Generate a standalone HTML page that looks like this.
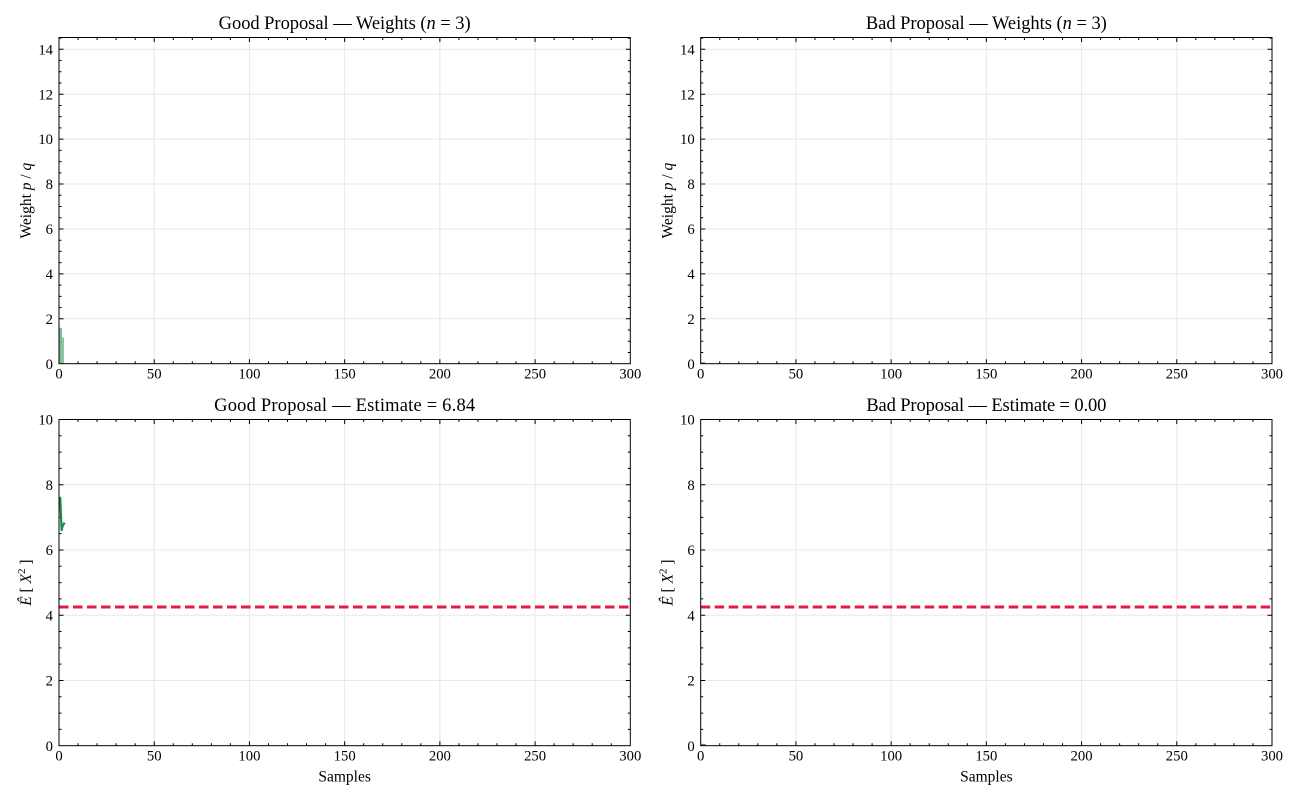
<!DOCTYPE html>
<html><head><meta charset="utf-8"><style>
html,body{margin:0;padding:0;background:#fff;}
svg{display:block;}
text{font-family:"Liberation Serif","DejaVu Serif",serif;fill:#000;}
.tk{font-size:14.7px;}
.lb{font-size:15.5px;}
.tt{font-size:18.5px;}
</style></head><body>
<svg width="1300" height="800" viewBox="0 0 1300 800" xmlns="http://www.w3.org/2000/svg">
<rect width="1300" height="800" fill="#fff"/>
<defs>
  <g id="xgrid">
    <path d="M95.22 0V326.2M190.43 0V326.2M285.65 0V326.2M380.87 0V326.2M476.08 0V326.2" stroke="#e8e8e8" stroke-width="1" fill="none"/>
  </g>
  <g id="xticks" stroke="#000" stroke-width="1" fill="none">
    <path d="M95.22 326.2v-4.5M190.43 326.2v-4.5M285.65 326.2v-4.5M380.87 326.2v-4.5M476.08 326.2v-4.5M95.22 0v4.5M190.43 0v4.5M285.65 0v4.5M380.87 0v4.5M476.08 0v4.5"/>
    <path d="M19.04 326.2v-2.5M38.09 326.2v-2.5M57.13 326.2v-2.5M76.17 326.2v-2.5M114.26 326.2v-2.5M133.3 326.2v-2.5M152.35 326.2v-2.5M171.39 326.2v-2.5M209.48 326.2v-2.5M228.52 326.2v-2.5M247.56 326.2v-2.5M266.61 326.2v-2.5M304.69 326.2v-2.5M323.74 326.2v-2.5M342.78 326.2v-2.5M361.82 326.2v-2.5M399.91 326.2v-2.5M418.95 326.2v-2.5M438 326.2v-2.5M457.04 326.2v-2.5M495.13 326.2v-2.5M514.17 326.2v-2.5M533.21 326.2v-2.5M552.26 326.2v-2.5
    M19.04 0v2.5M38.09 0v2.5M57.13 0v2.5M76.17 0v2.5M114.26 0v2.5M133.3 0v2.5M152.35 0v2.5M171.39 0v2.5M209.48 0v2.5M228.52 0v2.5M247.56 0v2.5M266.61 0v2.5M304.69 0v2.5M323.74 0v2.5M342.78 0v2.5M361.82 0v2.5M399.91 0v2.5M418.95 0v2.5M438 0v2.5M457.04 0v2.5M495.13 0v2.5M514.17 0v2.5M533.21 0v2.5M552.26 0v2.5"/>
  </g>
  <g id="xlabels" text-anchor="middle">
    <text class="tk" x="0" y="340.9">0</text>
    <text class="tk" x="95.22" y="340.9">50</text>
    <text class="tk" x="190.43" y="340.9">100</text>
    <text class="tk" x="285.65" y="340.9">150</text>
    <text class="tk" x="380.87" y="340.9">200</text>
    <text class="tk" x="476.08" y="340.9">250</text>
    <text class="tk" x="571.3" y="340.9">300</text>
  </g>
  <g id="ytop">
    <path d="M0 281.29H571.3M0 236.37H571.3M0 191.46H571.3M0 146.54H571.3M0 101.63H571.3M0 56.71H571.3M0 11.8H571.3" stroke="#e8e8e8" stroke-width="1" fill="none"/>
    <g stroke="#000" stroke-width="1" fill="none">
      <path d="M0 281.29h4.5M0 236.37h4.5M0 191.46h4.5M0 146.54h4.5M0 101.63h4.5M0 56.71h4.5M0 11.8h4.5M571.3 281.29h-4.5M571.3 236.37h-4.5M571.3 191.46h-4.5M571.3 146.54h-4.5M571.3 101.63h-4.5M571.3 56.71h-4.5M571.3 11.8h-4.5"/>
      <path d="M0 314.97h2.5M0 303.74h2.5M0 292.52h2.5M0 270.06h2.5M0 258.83h2.5M0 247.6h2.5M0 225.15h2.5M0 213.92h2.5M0 202.69h2.5M0 180.24h2.5M0 169.01h2.5M0 157.78h2.5M0 135.32h2.5M0 124.1h2.5M0 112.87h2.5M0 90.41h2.5M0 79.18h2.5M0 67.96h2.5M0 45.5h2.5M0 34.27h2.5M0 23.04h2.5M0 0.59h2.5
      M571.3 314.97h-2.5M571.3 303.74h-2.5M571.3 292.52h-2.5M571.3 270.06h-2.5M571.3 258.83h-2.5M571.3 247.6h-2.5M571.3 225.15h-2.5M571.3 213.92h-2.5M571.3 202.69h-2.5M571.3 180.24h-2.5M571.3 169.01h-2.5M571.3 157.78h-2.5M571.3 135.32h-2.5M571.3 124.1h-2.5M571.3 112.87h-2.5M571.3 90.41h-2.5M571.3 79.18h-2.5M571.3 67.96h-2.5M571.3 45.5h-2.5M571.3 34.27h-2.5M571.3 23.04h-2.5M571.3 0.59h-2.5"/>
    </g>
    <g text-anchor="end">
      <text class="tk" x="-6" y="331.3">0</text>
      <text class="tk" x="-6" y="286.39">2</text>
      <text class="tk" x="-6" y="241.47">4</text>
      <text class="tk" x="-6" y="196.56">6</text>
      <text class="tk" x="-6" y="151.64">8</text>
      <text class="tk" x="-6" y="106.73">10</text>
      <text class="tk" x="-6" y="61.81">12</text>
      <text class="tk" x="-6" y="16.9">14</text>
    </g>
    <text class="lb" text-anchor="middle" transform="translate(-28,163.1) rotate(-90)">Weight <tspan font-style="italic">p</tspan> / <tspan font-style="italic">q</tspan></text>
  </g>
  <g id="ybot">
    <path d="M0 260.96H571.3M0 195.72H571.3M0 130.48H571.3M0 65.24H571.3" stroke="#e8e8e8" stroke-width="1" fill="none"/>
    <g stroke="#000" stroke-width="1" fill="none">
      <path d="M0 260.96h4.5M0 195.72h4.5M0 130.48h4.5M0 65.24h4.5M571.3 260.96h-4.5M571.3 195.72h-4.5M571.3 130.48h-4.5M571.3 65.24h-4.5"/>
      <path d="M0 309.89h2.5M0 293.58h2.5M0 277.27h2.5M0 244.65h2.5M0 228.34h2.5M0 212.03h2.5M0 179.41h2.5M0 163.1h2.5M0 146.79h2.5M0 114.17h2.5M0 97.86h2.5M0 81.55h2.5M0 48.93h2.5M0 32.62h2.5M0 16.31h2.5
      M571.3 309.89h-2.5M571.3 293.58h-2.5M571.3 277.27h-2.5M571.3 244.65h-2.5M571.3 228.34h-2.5M571.3 212.03h-2.5M571.3 179.41h-2.5M571.3 163.1h-2.5M571.3 146.79h-2.5M571.3 114.17h-2.5M571.3 97.86h-2.5M571.3 81.55h-2.5M571.3 48.93h-2.5M571.3 32.62h-2.5M571.3 16.31h-2.5"/>
    </g>
    <g text-anchor="end">
      <text class="tk" x="-6" y="331.3">0</text>
      <text class="tk" x="-6" y="266.06">2</text>
      <text class="tk" x="-6" y="200.82">4</text>
      <text class="tk" x="-6" y="135.58">6</text>
      <text class="tk" x="-6" y="70.34">8</text>
      <text class="tk" x="-6" y="5.1">10</text>
    </g>
    <text class="lb" text-anchor="middle" transform="translate(-28,163.1) rotate(-90)"><tspan font-style="italic">Ê</tspan> [ <tspan font-style="italic">X</tspan><tspan font-size="11" dy="-6">2</tspan><tspan dy="6"> ]</tspan></text>
    <text class="lb" text-anchor="middle" x="285.65" y="362.2">Samples</text>
    <line x1="0" y1="187.56" x2="571.3" y2="187.56" stroke="#e31a47" stroke-width="3" stroke-dasharray="9.5 4.5"/>
  </g>
</defs>

<!-- Top-left -->
<g transform="translate(59,37.5)">
  <use href="#xgrid"/>
  <use href="#ytop"/>
  <rect x="0.5" y="290.3" width="2.5" height="35.9" fill="#7fbf97"/>
  <rect x="3" y="299.9" width="2" height="26.3" fill="#8cc6a3"/>
  <use href="#xticks"/>
  <rect x="0" y="0" width="571.3" height="326.2" fill="none" stroke="#000" stroke-width="1"/>
  <use href="#xlabels"/>
  <text class="tt" text-anchor="middle" x="285.65" y="-8.3" textLength="252" lengthAdjust="spacing">Good Proposal — Weights (<tspan font-style="italic">n</tspan> = 3)</text>
</g>

<!-- Top-right -->
<g transform="translate(700.7,37.5)">
  <use href="#xgrid"/>
  <use href="#ytop"/>
  <rect x="0.5" y="324.7" width="4" height="1.5" fill="#4a90c8"/>
  <use href="#xticks"/>
  <rect x="0" y="0" width="571.3" height="326.2" fill="none" stroke="#000" stroke-width="1"/>
  <use href="#xlabels"/>
  <text class="tt" text-anchor="middle" x="285.65" y="-8.3" textLength="241" lengthAdjust="spacing">Bad Proposal — Weights (<tspan font-style="italic">n</tspan> = 3)</text>
</g>

<!-- Bottom-left -->
<g transform="translate(59,419.5)">
  <use href="#xgrid"/>
  <use href="#ybot"/>
  <polyline points="1.2,77.3 2.6,110.6 3.8,106 5.7,103.1" fill="none" stroke="#1b8a4f" stroke-width="2.2" stroke-linejoin="round"/>
  <use href="#xticks"/>
  <rect x="0" y="0" width="571.3" height="326.2" fill="none" stroke="#000" stroke-width="1"/>
  <use href="#xlabels"/>
  <text class="tt" text-anchor="middle" x="285.65" y="-8.3" textLength="261" lengthAdjust="spacing">Good Proposal — Estimate = 6.84</text>
</g>

<!-- Bottom-right -->
<g transform="translate(700.7,419.5)">
  <use href="#xgrid"/>
  <use href="#ybot"/>
  <line x1="0.5" y1="325.4" x2="5" y2="325.4" stroke="#3a7fc0" stroke-width="2"/>
  <use href="#xticks"/>
  <rect x="0" y="0" width="571.3" height="326.2" fill="none" stroke="#000" stroke-width="1"/>
  <use href="#xlabels"/>
  <text class="tt" text-anchor="middle" x="285.65" y="-8.3" textLength="240" lengthAdjust="spacing">Bad Proposal — Estimate = 0.00</text>
</g>
</svg>
</body></html>
